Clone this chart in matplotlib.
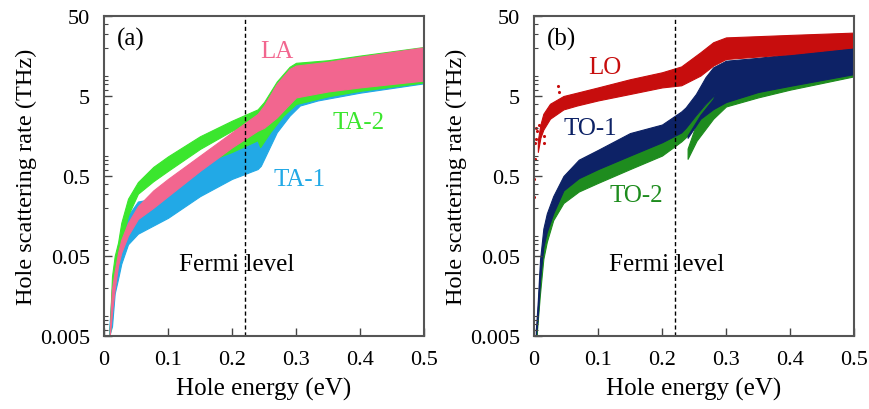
import numpy as np
import matplotlib.pyplot as plt
from matplotlib.ticker import LogLocator, NullFormatter, FixedLocator

plt.rcParams['font.family'] = ['Liberation Serif', 'DejaVu Serif']

# ---- panel (a): acoustic modes, band edges ----
la_E = [0.009, 0.0125, 0.0167, 0.022, 0.027, 0.0375, 0.053, 0.077, 0.1, 0.15, 0.2, 0.24,
        0.25, 0.27, 0.29, 0.3, 0.35, 0.4, 0.5]
la_hi = [0.006, 0.0195, 0.032, 0.055, 0.08, 0.13, 0.21, 0.33, 0.46, 0.9, 1.76, 2.98,
         3.8, 7.1, 10.9, 12.0, 13.4, 15.5, 20.3]
la_lo = [0.005, 0.0099, 0.0195, 0.038, 0.055, 0.09, 0.145, 0.2, 0.28, 0.58, 1.14, 1.84,
         2.0, 2.7, 3.97, 4.8, 5.7, 6.4, 7.8]

ta1_E = [0.008, 0.0125, 0.0167, 0.022, 0.027, 0.0375, 0.053, 0.077, 0.1, 0.15, 0.2, 0.24,
         0.245, 0.27, 0.29, 0.306, 0.334, 0.4, 0.5]
ta1_hi = [0.006, 0.0195, 0.034, 0.05, 0.07, 0.16, 0.24, 0.26, 0.30, 0.65, 1.1, 1.7,
          1.9, 3.5, 6.0, 8.0, 10.0, 13.0, 17.0]
ta1_lo = [0.005, 0.0066, 0.017, 0.026, 0.04, 0.07, 0.095, 0.12, 0.15, 0.28, 0.46, 0.61,
          0.67, 1.76, 2.84, 3.8, 4.4, 5.5, 7.2]

ta2_E = [0.009, 0.0125, 0.0167, 0.022, 0.027, 0.0375, 0.053, 0.077, 0.1, 0.15, 0.2, 0.24,
         0.25, 0.27, 0.29, 0.3, 0.35, 0.4, 0.5]
ta2_hi = [0.006, 0.028, 0.05, 0.074, 0.13, 0.26, 0.42, 0.65, 0.88, 1.57, 2.46, 3.4,
          4.2, 7.6, 11.6, 13.0, 14.0, 16.0, 20.5]
ta2_lo = [0.005, 0.012, 0.03, 0.045, 0.07, 0.16, 0.3, 0.43, 0.58, 1.09, 1.84, 2.6,
          3.0, 4.0, 6.0, 8.0, 9.0, 10.0, 12.0]

ta2b_E = [0.16, 0.2, 0.24, 0.244, 0.26, 0.28, 0.3, 0.35, 0.4, 0.5]
ta2b_hi = [0.85, 1.25, 1.9, 2.1, 3.2, 4.5, 6.0, 7.0, 8.0, 10.0]
ta2b_lo = [0.75, 1.0, 1.4, 1.15, 1.78, 2.84, 3.97, 4.95, 5.8, 7.4]

# ---- panel (b): optical modes ----
lo_E = [0.006, 0.01, 0.0146, 0.025, 0.046, 0.067, 0.1, 0.15, 0.2, 0.23, 0.26, 0.28, 0.3, 0.4, 0.5]
lo_hi = [1.4, 2.2, 3.0, 4.0, 5.0, 5.5, 6.4, 8.1, 9.9, 11.7, 17.6, 23.5, 27.0, 29.0, 31.0]
lo_lo = [1.0, 1.5, 1.9, 2.6, 3.4, 3.8, 4.4, 5.3, 6.4, 6.8, 9.0, 12.0, 14.5, 16.7, 20.3]
lo_dots_E = [0.0, 0.0005, 0.0016, 0.002, 0.003, 0.0036, 0.0047, 0.0073, 0.015, 0.016, 0.038, 0.0385]
lo_dots_v = [0.46, 0.27, 0.82, 1.3, 1.46, 2.0, 1.8, 2.2, 1.6, 1.3, 6.7, 5.6]

to1_E = [0.003, 0.006, 0.0094, 0.0146, 0.02, 0.03, 0.046, 0.07, 0.1, 0.15, 0.2, 0.23,
         0.237, 0.253, 0.268, 0.28, 0.3]
to1_hi = [0.006, 0.014, 0.045, 0.11, 0.17, 0.28, 0.5, 0.8, 1.06, 1.72, 2.2, 3.2,
          3.6, 5.3, 8.6, 11.4, 13.8]
to1_lo = [0.005, 0.009, 0.025, 0.065, 0.1, 0.17, 0.33, 0.47, 0.61, 0.9, 1.32, 1.75,
          2.0, 2.9, 4.0, 5.0, 9.0]

to1b_E = [0.24, 0.26, 0.28, 0.3, 0.35, 0.4, 0.5]
to1b_hi = [1.6, 2.9, 4.6, 13.8, 15.0, 16.7, 20.3]
to1b_lo = [1.5, 2.6, 3.43, 4.2, 5.6, 6.7, 9.4]

to2_E = [0.004, 0.006, 0.0094, 0.0146, 0.02, 0.03, 0.046, 0.07, 0.1, 0.15, 0.2, 0.23,
         0.24, 0.26, 0.28, 0.29]
to2_hi = [0.006, 0.011, 0.032, 0.08, 0.12, 0.22, 0.38, 0.55, 0.68, 1.06, 1.38, 1.9,
          2.2, 3.3, 5.0, 6.0]
to2_lo = [0.005, 0.008, 0.017, 0.046, 0.075, 0.14, 0.23, 0.32, 0.41, 0.61, 0.9, 1.35,
          1.6, 2.6, 4.2, 5.5]

to2b_E = [0.24, 0.254, 0.28, 0.3, 0.35, 0.4, 0.5]
to2b_hi = [1.1, 2.3, 3.6, 4.5, 6.0, 7.0, 10.0]
to2b_lo = [0.82, 1.38, 2.6, 3.7, 4.8, 6.0, 8.8]

fermi = 0.22

c_la, c_ta1, c_ta2 = '#F2668F', '#22A9E6', '#3BE62E'
c_lo, c_to1, c_to2 = '#C70D0D', '#0D2266', '#1E8C1E'

fig = plt.figure(figsize=(8.7, 4.1), dpi=100)
ax_a = fig.add_axes([104 / 870, 1 - 337 / 410, 320 / 870, 320 / 410])
ax_b = fig.add_axes([534 / 870, 1 - 337 / 410, 320 / 870, 320 / 410])


def band(ax, E, lo, hi, color):
    ax.fill_between(E, lo, hi, color=color, lw=0.8, edgecolor=color)


# panel a, back to front: TA-1, TA-2, LA
band(ax_a, ta1_E, ta1_lo, ta1_hi, c_ta1)
band(ax_a, ta2_E, ta2_lo, ta2_hi, c_ta2)
band(ax_a, ta2b_E, ta2b_lo, ta2b_hi, c_ta2)
band(ax_a, la_E, la_lo, la_hi, c_la)

# panel b, back to front: TO-2, TO-1, LO
band(ax_b, to2_E, to2_lo, to2_hi, c_to2)
band(ax_b, to2b_E, to2b_lo, to2b_hi, c_to2)
band(ax_b, to1_E, to1_lo, to1_hi, c_to1)
band(ax_b, to1b_E, to1b_lo, to1b_hi, c_to1)
band(ax_b, lo_E, lo_lo, lo_hi, c_lo)
ax_b.scatter(lo_dots_E, lo_dots_v, s=5, color=c_lo, lw=0, clip_on=False)

fs = 18
for ax, tag in [(ax_a, '(a)'), (ax_b, '(b)')]:
    ax.set_yscale('log')
    ax.set_xlim(0, 0.5)
    ax.set_ylim(0.005, 50)
    ax.axvline(fermi, color='black', lw=1, linestyle=(0, (3, 2)))
    ax.yaxis.set_major_locator(FixedLocator([0.005, 0.05, 0.5, 5, 50]))
    ax.set_yticklabels(['0.005', '0.05', '0.5', '5', '50'])
    ax.yaxis.set_minor_locator(LogLocator(base=10, subs=np.arange(2, 10)))
    ax.yaxis.set_minor_formatter(NullFormatter())
    ax.set_xticks([0, 0.1, 0.2, 0.3, 0.4, 0.5])
    ax.set_xticklabels(['0', '0.1', '0.2', '0.3', '0.4', '0.5'])
    ax.tick_params(which='both', direction='in', labelsize=16, color='#444444')
    ax.tick_params(which='major', length=6, width=1)
    ax.tick_params(which='minor', length=3, width=0.8)
    ax.tick_params(axis='x', which='major', pad=10)
    ax.tick_params(axis='y', which='major', pad=10)
    for s in ax.spines.values():
        s.set_color('#555555')
        s.set_linewidth(1.5)
    ax.set_xlabel('Hole energy (eV)', fontsize=18, labelpad=6)
    ax.set_ylabel('Hole scattering rate (THz)', fontsize=17.5, labelpad=2)
    ax.text(0.04, 0.93, tag, transform=ax.transAxes, fontsize=fs, va='center')
    ax.text(0.415, 0.225, 'Fermi level', transform=ax.transAxes, fontsize=fs,
            ha='center', va='center')

ax_a.text(0.54, 0.89, 'LA', transform=ax_a.transAxes, fontsize=fs, color=c_la, ha='center', va='center')
ax_a.text(0.795, 0.67, 'TA-2', transform=ax_a.transAxes, fontsize=fs, color=c_ta2, ha='center', va='center')
ax_a.text(0.61, 0.49, 'TA-1', transform=ax_a.transAxes, fontsize=fs, color=c_ta1, ha='center', va='center')

ax_b.text(0.22, 0.84, 'LO', transform=ax_b.transAxes, fontsize=fs, color=c_lo, ha='center', va='center')
ax_b.text(0.175, 0.65, 'TO-1', transform=ax_b.transAxes, fontsize=fs, color=c_to1, ha='center', va='center')
ax_b.text(0.32, 0.44, 'TO-2', transform=ax_b.transAxes, fontsize=fs, color=c_to2, ha='center', va='center')

fig.savefig('out.png', dpi=100)
